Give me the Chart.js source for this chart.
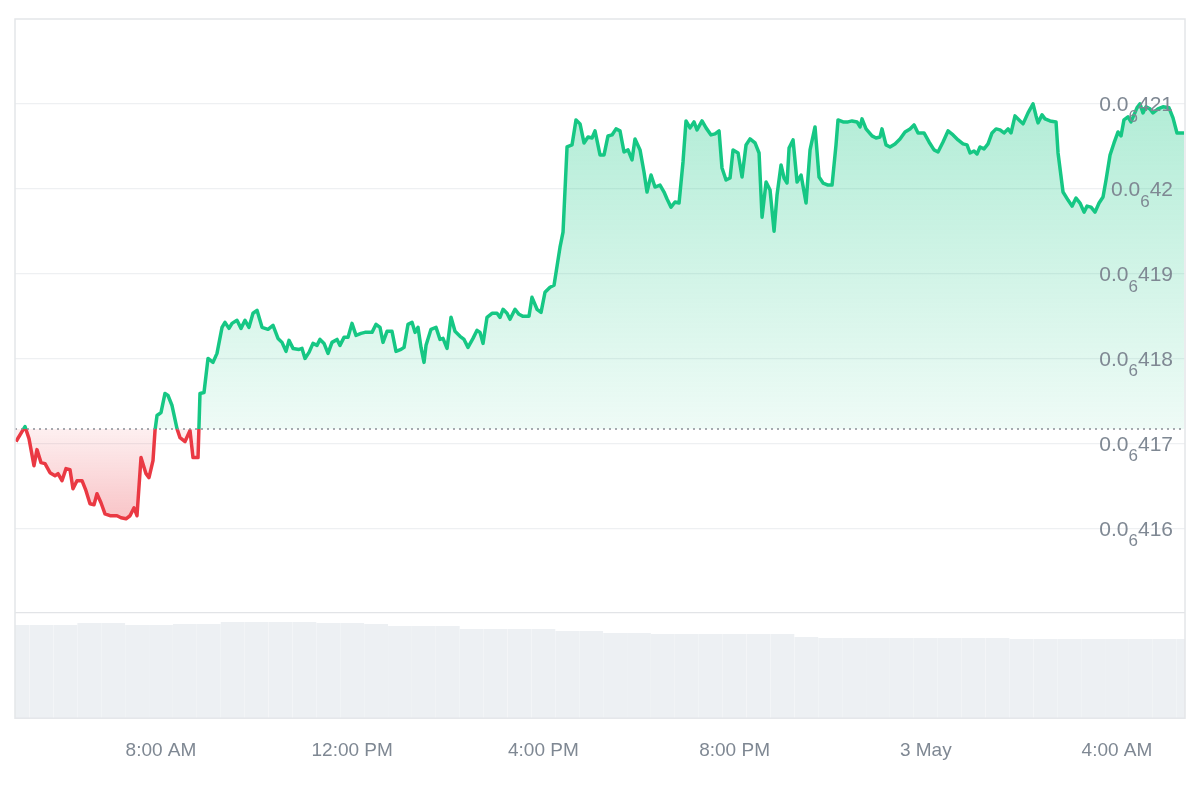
<!DOCTYPE html>
<html>
<head>
<meta charset="utf-8">
<script src="https://cdn.jsdelivr.net/npm/chart.js@4.4.1/dist/chart.umd.min.js"></script>
<style>
  body { margin: 0; background: #fff; }
  canvas { display: block; }
</style>
</head>
<body>
<canvas id="priceChart" width="1200" height="800"></canvas>
<script>
// time in hours from 00:00 on 2 May (values above 24 are 3 May)
const priceTimes = [
  4.967, 5.155, 5.239, 5.343, 5.406, 5.490, 5.574, 5.678, 5.783, 5.846,
  5.929, 6.013, 6.097, 6.159, 6.243, 6.348, 6.431, 6.515, 6.599, 6.661,
  6.745, 6.829, 6.934, 7.080, 7.164, 7.268, 7.352, 7.436, 7.498, 7.582,
  7.687, 7.749, 7.833, 7.875, 7.917, 8.000, 8.084, 8.147, 8.231, 8.335,
  8.398, 8.503, 8.607, 8.670, 8.775, 8.816, 8.900, 8.984, 9.088, 9.172,
  9.277, 9.339, 9.423, 9.486, 9.590, 9.674, 9.758, 9.841, 9.925, 10.009,
  10.114, 10.239, 10.344, 10.448, 10.532, 10.616, 10.678, 10.762, 10.888, 10.950,
  11.013, 11.097, 11.180, 11.264, 11.327, 11.411, 11.494, 11.578, 11.683, 11.745,
  11.829, 11.913, 11.996, 12.080, 12.185, 12.268, 12.415, 12.499, 12.582, 12.645,
  12.729, 12.833, 12.917, 13.022, 13.085, 13.168, 13.252, 13.315, 13.377, 13.440,
  13.503, 13.545, 13.649, 13.754, 13.837, 13.900, 13.984, 14.068, 14.151, 14.256,
  14.340, 14.423, 14.528, 14.612, 14.675, 14.737, 14.821, 14.926, 15.030, 15.093,
  15.156, 15.239, 15.302, 15.407, 15.490, 15.574, 15.699, 15.762, 15.867, 15.951,
  16.034, 16.139, 16.223, 16.348, 16.411, 16.495, 16.599, 16.683, 16.767, 16.850,
  16.934, 17.018, 17.080, 17.185, 17.269, 17.352, 17.436, 17.520, 17.603, 17.687,
  17.771, 17.854, 17.917, 18.022, 18.105, 18.168, 18.252, 18.335, 18.440, 18.524,
  18.587, 18.670, 18.754, 18.838, 18.921, 18.984, 19.068, 19.151, 19.214, 19.319,
  19.403, 19.507, 19.591, 19.675, 19.737, 19.821, 19.905, 19.968, 20.073, 20.156,
  20.240, 20.323, 20.428, 20.512, 20.575, 20.659, 20.742, 20.826, 20.888, 20.972,
  21.035, 21.098, 21.140, 21.223, 21.307, 21.391, 21.495, 21.579, 21.683, 21.767,
  21.851, 21.955, 22.039, 22.122, 22.164, 22.269, 22.374, 22.457, 22.562, 22.625,
  22.666, 22.750, 22.875, 22.959, 23.043, 23.084, 23.168, 23.252, 23.356, 23.461,
  23.566, 23.670, 23.754, 23.838, 23.963, 24.068, 24.172, 24.256, 24.361, 24.465,
  24.570, 24.675, 24.779, 24.863, 24.926, 25.009, 25.072, 25.135, 25.219, 25.302,
  25.386, 25.470, 25.553, 25.637, 25.721, 25.784, 25.867, 25.951, 26.035, 26.139,
  26.244, 26.307, 26.348, 26.432, 26.495, 26.599, 26.725, 26.767, 26.871, 26.976,
  27.060, 27.143, 27.227, 27.311, 27.374, 27.457, 27.541, 27.625, 27.708, 27.771,
  27.855, 27.938, 28.022, 28.085, 28.146, 28.230, 28.293, 28.356, 28.418, 28.481,
  28.544, 28.607, 28.690, 28.753, 28.858, 28.962, 29.088, 29.172, 29.255, 29.339,
  29.402
];

// price in units of 0.000000001 (421 = 0.0₆421)
const prices = [
  417.020, 417.197, 417.055, 416.736, 416.925, 416.772, 416.760, 416.654, 416.618, 416.642,
  416.559, 416.701, 416.689, 416.465, 416.559, 416.559, 416.441, 416.287, 416.276, 416.406,
  416.299, 416.169, 416.146, 416.146, 416.122, 416.110, 416.146, 416.240, 416.146, 416.831,
  416.642, 416.595, 416.795, 417.150, 417.327, 417.362, 417.587, 417.563, 417.445, 417.173,
  417.067, 417.020, 417.150, 416.831, 416.831, 417.587, 417.598, 418.000, 417.953, 418.059,
  418.366, 418.425, 418.354, 418.413, 418.449, 418.354, 418.449, 418.366, 418.532, 418.567,
  418.366, 418.343, 418.390, 418.236, 418.189, 418.083, 418.213, 418.118, 418.106, 418.118,
  418.000, 418.071, 418.177, 418.154, 418.224, 418.177, 418.059, 418.189, 418.224, 418.154,
  418.248, 418.248, 418.413, 418.272, 418.295, 418.307, 418.307, 418.402, 418.366, 418.189,
  418.319, 418.319, 418.083, 418.106, 418.130, 418.402, 418.425, 418.307, 418.366, 418.130,
  417.953, 418.154, 418.343, 418.366, 418.224, 418.236, 418.118, 418.484, 418.319, 418.260,
  418.224, 418.130, 418.236, 418.331, 418.307, 418.177, 418.484, 418.532, 418.532, 418.484,
  418.579, 418.532, 418.461, 418.579, 418.520, 418.496, 418.496, 418.720, 418.579, 418.543,
  418.780, 418.839, 418.862, 419.311, 419.488, 420.492, 420.516, 420.811, 420.764, 420.539,
  420.610, 420.598, 420.681, 420.398, 420.398, 420.622, 420.634, 420.705, 420.681, 420.433,
  420.457, 420.339, 420.587, 420.457, 420.197, 419.961, 420.161, 420.020, 420.043, 419.961,
  419.878, 419.783, 419.843, 419.831, 420.315, 420.799, 420.717, 420.787, 420.693, 420.799,
  420.717, 420.634, 420.646, 420.681, 420.244, 420.102, 420.126, 420.457, 420.421, 420.138,
  420.516, 420.587, 420.539, 420.421, 419.665, 420.079, 419.984, 419.500, 419.925, 420.280,
  420.126, 420.067, 420.480, 420.575, 420.079, 420.161, 419.831, 420.457, 420.728, 420.138,
  420.067, 420.043, 420.043, 420.516, 420.811, 420.787, 420.787, 420.799, 420.787, 420.728,
  420.823, 420.705, 420.622, 420.598, 420.610, 420.705, 420.516, 420.492, 420.528, 420.587,
  420.669, 420.705, 420.752, 420.657, 420.657, 420.551, 420.457, 420.433, 420.551, 420.681,
  420.634, 420.575, 420.528, 420.516, 420.421, 420.445, 420.409, 420.492, 420.469, 420.528,
  420.657, 420.705, 420.693, 420.657, 420.705, 420.657, 420.858, 420.811, 420.764, 420.894,
  421.000, 420.858, 420.776, 420.870, 420.823, 420.799, 420.787, 420.421, 419.961, 419.866,
  419.795, 419.890, 419.831, 419.724, 419.795, 419.783, 419.724, 419.831, 419.902, 420.102,
  420.398, 420.539, 420.669, 420.622, 420.811, 420.846, 420.787, 420.870, 420.953, 421.000,
  420.894, 420.965, 420.941, 420.894, 420.941, 420.965, 420.953, 420.835, 420.657, 420.657,
  420.657
];

const openPrice = 417.167;

const volumeTimes = [
  5.0, 5.5, 6.0, 6.5, 7.0, 7.5, 8.0, 8.5, 9.0, 9.5,
  10.0, 10.5, 11.0, 11.5, 12.0, 12.5, 13.0, 13.5, 14.0, 14.5,
  15.0, 15.5, 16.0, 16.5, 17.0, 17.5, 18.0, 18.5, 19.0, 19.5,
  20.0, 20.5, 21.0, 21.5, 22.0, 22.5, 23.0, 23.5, 24.0, 24.5,
  25.0, 25.5, 26.0, 26.5, 27.0, 27.5, 28.0, 28.5, 29.0, 29.5
];
const volumes = [
  93, 93, 93, 95, 95, 93, 93, 94, 94, 96,
  96, 96, 96, 95, 95, 94, 92, 92, 92, 89,
  89, 89, 89, 87, 87, 85, 85, 84, 84, 84,
  84, 84, 84, 81, 80, 80, 80, 80, 80, 80,
  80, 80, 79, 79, 79, 79, 79, 79, 79, 79
];

const xTickValues = [8, 12, 16, 20, 24, 28];
const xTickLabels = ['8:00 AM', '12:00 PM', '4:00 PM', '8:00 PM', '3 May', '4:00 AM'];
const xMin = 4.946;
const xMax = 29.423;

const yGridValues = [415, 416, 417, 418, 419, 420, 421];
const yLabelValues = [416, 417, 418, 419, 420, 421];
const yLabelTexts = ['0.0₆416', '0.0₆417', '0.0₆418', '0.0₆419', '0.0₆42', '0.0₆421'];

const GREEN = '#16c784';
const RED = '#ea3943';
const LABEL_COLOR = '#7f8893';
const FONT_FAMILY = '"Liberation Sans", Arial, sans-serif';

// frame around the plot
const framePlugin = {
  id: 'frame',
  afterDatasetsDraw(chart) {
    const { ctx, chartArea } = chart;
    ctx.save();
    ctx.strokeStyle = '#e4e6e9';
    ctx.lineWidth = 1.5;
    ctx.strokeRect(chartArea.left, chartArea.top, chartArea.right - chartArea.left, chartArea.bottom - chartArea.top);
    ctx.restore();
  }
};

// price labels with subscript zero count, drawn inside the plot on the right
const priceLabelPlugin = {
  id: 'priceLabels',
  afterDatasetsDraw(chart) {
    const { ctx, chartArea, scales } = chart;
    ctx.save();
    ctx.fillStyle = LABEL_COLOR;
    ctx.textBaseline = 'alphabetic';
    const mainFont = '21px ' + FONT_FAMILY;
    const subFont = '17px ' + FONT_FAMILY;
    yLabelValues.forEach((v, i) => {
      const m = yLabelTexts[i].match(/^(.*?)([\u2080-\u2089])(.*)$/);
      const sub = String(m[2].charCodeAt(0) - 0x2080);
      const y = scales.y.getPixelForValue(v);
      ctx.font = mainFont;
      const wHead = ctx.measureText(m[1]).width;
      const wTail = ctx.measureText(m[3]).width;
      ctx.font = subFont;
      const wSub = ctx.measureText(sub).width;
      let x = chartArea.right - 12 - (wHead + wSub + wTail);
      ctx.font = mainFont;
      ctx.fillText(m[1], x, y + 7.5);
      x += wHead;
      ctx.font = subFont;
      ctx.fillText(sub, x, y + 18);
      x += wSub;
      ctx.font = mainFont;
      ctx.fillText(m[3], x, y + 7.5);
    });
    ctx.restore();
  }
};

const ctx = document.getElementById('priceChart').getContext('2d');

const chart = new Chart(ctx, {
  type: 'line',
  data: {
    datasets: [
      {
        label: 'Price',
        data: priceTimes.map((t, i) => ({ x: t, y: prices[i] })),
        borderColor: GREEN,
        borderWidth: 3.5,
        borderJoinStyle: 'round',
        pointRadius: 0,
        tension: 0,
        fill: { target: { value: openPrice }, above: 'rgba(22,199,132,0.2)', below: 'rgba(234,57,67,0.2)' },
        yAxisID: 'y',
        order: 1
      },
      {
        label: 'Open',
        data: [{ x: xMin, y: openPrice }, { x: xMax, y: openPrice }],
        borderColor: '#8a8f96',
        borderWidth: 1.5,
        borderDash: [2, 4],
        pointRadius: 0,
        fill: false,
        yAxisID: 'y',
        order: 0
      },
      {
        type: 'bar',
        label: 'Volume',
        data: volumeTimes.map((t, i) => ({ x: t, y: volumes[i] })),
        backgroundColor: '#edf0f3',
        borderWidth: 0,
        barPercentage: 0.995,
        categoryPercentage: 1,
        yAxisID: 'y2',
        order: 2
      }
    ]
  },
  options: {
    responsive: false,
    animation: false,
    layout: { padding: { left: 15, right: 15, top: 19, bottom: 25 } },
    plugins: {
      legend: { display: false },
      tooltip: { enabled: false }
    },
    scales: {
      x: {
        type: 'linear',
        min: xMin,
        max: xMax,
        offset: false,
        grid: { display: false },
        border: { display: false },
        afterBuildTicks: (scale) => { scale.ticks = xTickValues.map(v => ({ value: v })); },
        ticks: {
          padding: 13,
          color: LABEL_COLOR,
          font: { size: 19, family: FONT_FAMILY },
          maxRotation: 0,
          autoSkip: false,
          callback: (value) => xTickLabels[xTickValues.indexOf(value)]
        }
      },
      y: {
        position: 'right',
        min: 413.76,
        max: 422,
        afterBuildTicks: (scale) => { scale.ticks = yGridValues.map(v => ({ value: v })); },
        grid: {
          drawTicks: false,
          color: (c) => c.tick && c.tick.value === 415 ? '#e2e4e7' : '#eef0f2',
          lineWidth: 1.2
        },
        border: { display: false },
        ticks: { display: false }
      },
      y2: {
        display: false,
        min: 0,
        max: 698
      }
    }
  },
  plugins: [framePlugin, priceLabelPlugin]
});

// gradients need the pixel position of the open price
const area = chart.chartArea;
const yScale = chart.scales.y;
const baseY = yScale.getPixelForValue(openPrice);
const split = (baseY - area.top) / (area.bottom - area.top);

const lineGrad = ctx.createLinearGradient(0, area.top, 0, area.bottom);
lineGrad.addColorStop(0, GREEN);
lineGrad.addColorStop(split, GREEN);
lineGrad.addColorStop(split, RED);
lineGrad.addColorStop(1, RED);

const aboveGrad = ctx.createLinearGradient(0, yScale.getPixelForValue(421), 0, baseY);
aboveGrad.addColorStop(0, 'rgba(22,199,132,0.33)');
aboveGrad.addColorStop(1, 'rgba(22,199,132,0.07)');

const belowGrad = ctx.createLinearGradient(0, baseY, 0, yScale.getPixelForValue(416));
belowGrad.addColorStop(0, 'rgba(234,57,67,0.08)');
belowGrad.addColorStop(1, 'rgba(234,57,67,0.32)');

chart.data.datasets[0].borderColor = lineGrad;
chart.data.datasets[0].fill = { target: { value: openPrice }, above: aboveGrad, below: belowGrad };
chart.update('none');
</script>
</body>
</html>
